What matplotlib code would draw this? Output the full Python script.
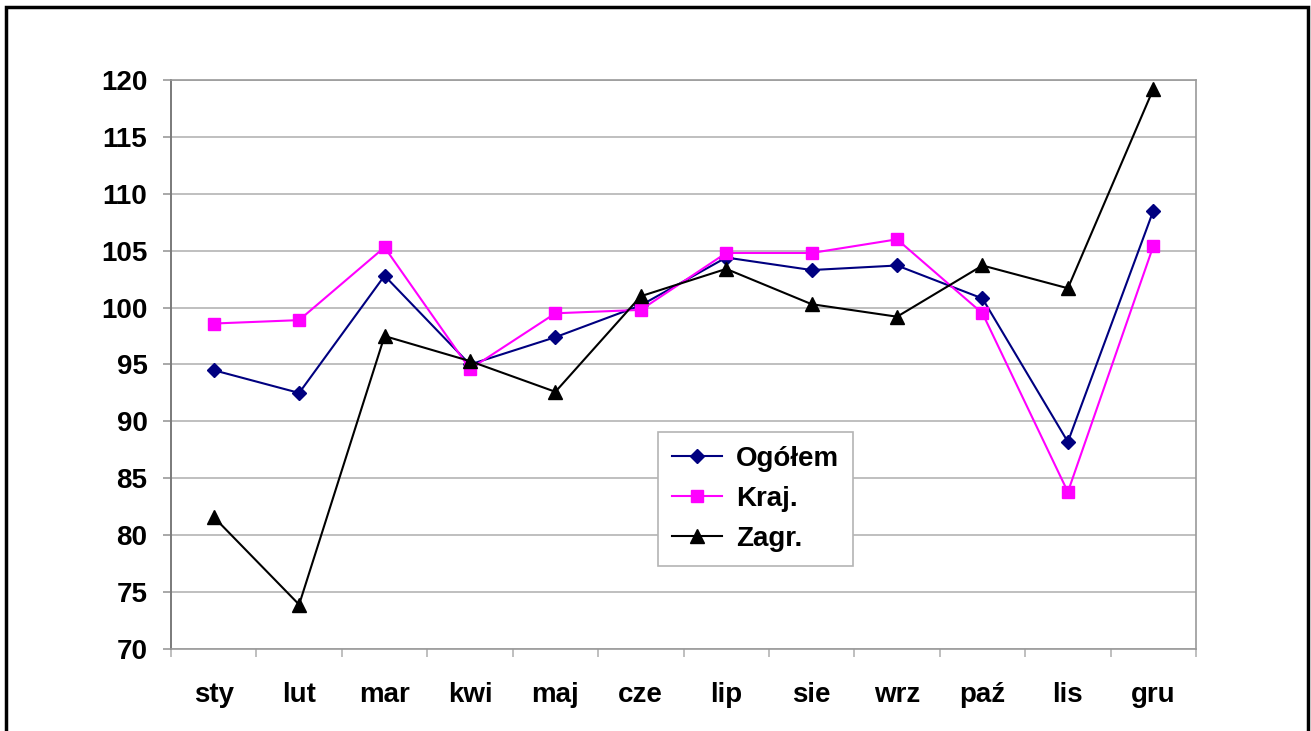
"""
Monthly indices: total, domestic and foreign (line chart with markers).
"""
import numpy as np
import matplotlib.pyplot as plt
from matplotlib.patches import Rectangle

months = ['sty', 'lut', 'mar', 'kwi', 'maj', 'cze',
          'lip', 'sie', 'wrz', 'paź', 'lis', 'gru']
ogolem = [94.5, 92.5, 102.8, 95.0, 97.4, 100.2, 104.4, 103.3, 103.7, 100.8, 88.2, 108.5]
kraj = [98.6, 98.9, 105.3, 94.6, 99.5, 99.8, 104.8, 104.8, 106.0, 99.5, 83.8, 105.4]
zagr = [81.6, 73.9, 97.5, 95.3, 92.6, 101.0, 103.4, 100.3, 99.2, 103.7, 101.7, 119.2]
y_ticks = list(range(70, 121, 5))


def plot_chart():
    plt.rcParams['font.family'] = ['Liberation Sans', 'DejaVu Sans']
    plt.rcParams['font.weight'] = 'bold'

    fig = plt.figure(figsize=(13.11, 7.31), dpi=100)
    ax = fig.add_axes([171 / 1311, 1 - 649 / 731, (1196 - 171) / 1311, (649 - 80) / 731])

    x = np.arange(len(months))
    ax.plot(x, ogolem, color='#000080', lw=1.5, marker='D', ms=7.5, label='Ogółem')
    ax.plot(x, kraj, color='#FF00FF', lw=1.5, marker='s', ms=9, label='Kraj.')
    ax.plot(x, zagr, color='black', lw=1.5, marker='^', ms=10, label='Zagr.')

    ax.set_xlim(-0.5, len(months) - 0.5)
    ax.set_ylim(70, 120)
    ax.set_yticks(y_ticks)
    ax.set_xticks(x)
    ax.set_xticklabels(months)
    ax.set_xticks(np.arange(-0.5, len(months)), minor=True)

    ax.grid(True, axis='y', color='#b4b4b4', lw=1.2)
    ax.set_axisbelow(True)
    for side in ['top', 'right', 'bottom']:
        ax.spines[side].set_color('#9a9a9a')
        ax.spines[side].set_linewidth(1.2)
    ax.spines['left'].set_color('#7a7a7a')
    ax.spines['left'].set_linewidth(1.4)

    ax.tick_params(axis='y', direction='out', length=6, width=1.2, color='#9a9a9a',
                   labelsize=20, pad=11)
    ax.tick_params(axis='x', which='major', length=0, labelsize=20, pad=24)
    ax.tick_params(axis='x', which='minor', direction='out', length=6, width=1.2,
                   color='#b4b4b4')

    leg = ax.legend(loc='upper left', bbox_to_anchor=(658 / 1311, 1 - 432 / 731),
                    bbox_transform=fig.transFigure, borderaxespad=0,
                    fancybox=False, framealpha=1, edgecolor='#b4b4b4',
                    fontsize=20, handlelength=1.8, borderpad=0.5,
                    labelspacing=0.5, handletextpad=0.5)
    leg.get_frame().set_linewidth(1.2)

    # outer black frame of the chart area
    fig.patches.append(Rectangle((6 / 1311, -0.05), (1308 - 6) / 1311, 1.05 - 7 / 731,
                                 transform=fig.transFigure, fill=False,
                                 edgecolor='black', lw=2.5))

    fig.savefig('out.png', dpi=100)


if __name__ == "__main__":
    plot_chart()
